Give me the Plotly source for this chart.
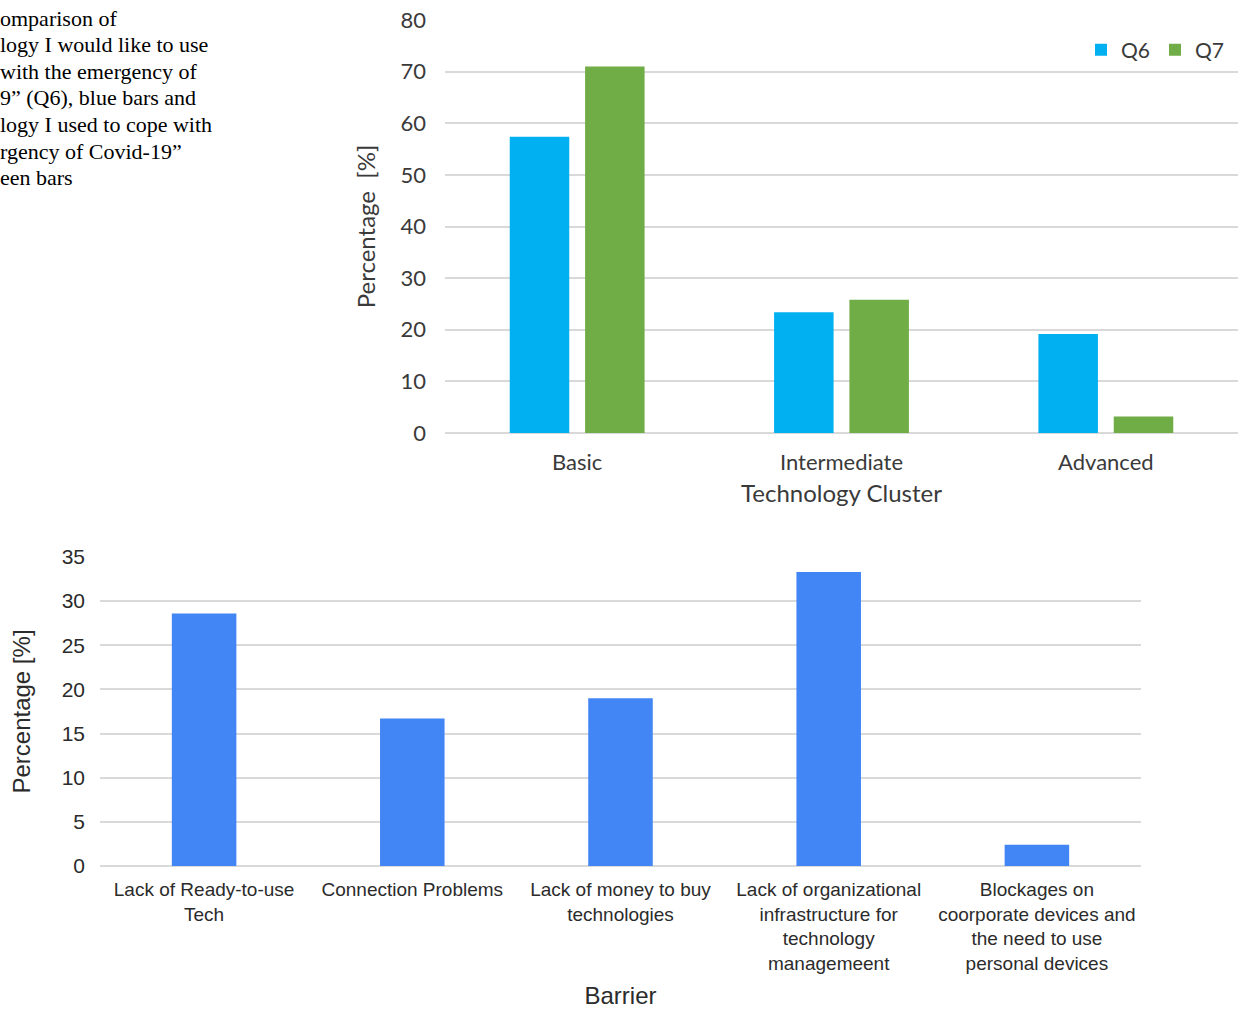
import plotly.graph_objects as go

# ---- Top chart data ----
clusters = ["Basic", "Intermediate", "Advanced"]
q6_values = [57.4, 23.4, 19.2]
q7_values = [71.0, 25.8, 3.2]

# ---- Bottom chart data ----
barriers = [
    "Lack of Ready-to-use<br>Tech",
    "Connection Problems",
    "Lack of money to buy<br>technologies",
    "Lack of organizational<br>infrastructure for<br>technology<br>managemeent",
    "Blockages on<br>coorporate devices and<br>the need to use<br>personal devices",
]
barrier_values = [28.6, 16.7, 19.0, 33.3, 2.4]

caption_lines = [
    "omparison of",
    "logy I would like to use",
    "with the emergency of",
    "9\u201d (Q6), blue bars and",
    "logy I used to cope with",
    "rgency of Covid-19\u201d",
    "een bars",
]

W, H = 1238, 1009
TOP_FONT = "Lato, 'Open Sans', sans-serif"
TOP_COLOR = "#3a3a3a"
BOT_FONT = "'Liberation Sans', Arial, sans-serif"
BOT_COLOR = "#2b2b2b"

fig = go.Figure()
fig.add_trace(go.Bar(x=clusters, y=q6_values, name="Q6", marker_color="#00B0F0",
                     xaxis="x", yaxis="y"))
fig.add_trace(go.Bar(x=clusters, y=q7_values, name="Q7", marker_color="#70AD47",
                     xaxis="x", yaxis="y"))
fig.add_trace(go.Bar(x=barriers, y=barrier_values, name="Barrier", marker_color="#4285F4",
                     xaxis="x2", yaxis="y2", showlegend=False, width=0.31))


def px(x):
    return x / W


def py(y):
    return 1 - y / H


fig.update_layout(
    template="none",
    width=W, height=H,
    margin=dict(l=0, r=0, t=0, b=0, autoexpand=False),
    paper_bgcolor="white", plot_bgcolor="white",
    barmode="group", bargap=0.43, bargroupgap=0.21,
    showlegend=True,
    legend=dict(orientation="h", x=px(1081), y=py(50), xanchor="left", yanchor="middle",
                font=dict(family=TOP_FONT, size=21, color=TOP_COLOR),
                bgcolor="rgba(0,0,0,0)", itemwidth=30),
    xaxis=dict(domain=[px(445), 1.0], anchor="y", showgrid=False, showline=False,
               zeroline=False, automargin=False,
               ticks="outside", ticklen=10, tickcolor="rgba(0,0,0,0)",
               tickfont=dict(family=TOP_FONT, size=22, color=TOP_COLOR),
               title=dict(text="Technology Cluster", standoff=10,
                          font=dict(family=TOP_FONT, size=24, color=TOP_COLOR))),
    yaxis=dict(domain=[py(433), py(20)], anchor="x", range=[0, 80], dtick=10,
               automargin=False,
               showgrid=True, gridcolor="#d9d9d9", gridwidth=2,
               zeroline=True, zerolinecolor="#d9d9d9", zerolinewidth=2,
               ticks="", ticklabelstandoff=18,
               tickfont=dict(family=TOP_FONT, size=22, color=TOP_COLOR),
               title=dict(text="Percentage  [%]", standoff=18,
                          font=dict(family=TOP_FONT, size=24, color=TOP_COLOR))),
    xaxis2=dict(domain=[px(100), px(1141)], anchor="y2", showgrid=False, showline=False,
                zeroline=False, automargin=False,
                ticks="outside", ticklen=6, tickcolor="rgba(0,0,0,0)",
                tickfont=dict(family=BOT_FONT, size=19, color=BOT_COLOR),
                title=dict(text="Barrier", standoff=14,
                           font=dict(family=BOT_FONT, size=24, color=BOT_COLOR))),
    yaxis2=dict(domain=[py(866), py(557)], anchor="x2", range=[0, 35], dtick=5,
                automargin=False,
                showgrid=True, gridcolor="#d9d9d9", gridwidth=2,
                zeroline=True, zerolinecolor="#d9d9d9", zerolinewidth=2,
                ticks="", ticklabelstandoff=14,
                tickfont=dict(family=BOT_FONT, size=21, color=BOT_COLOR),
                title=dict(text="Percentage [%]", standoff=24,
                           font=dict(family=BOT_FONT, size=24, color=BOT_COLOR))),
)

for i, line in enumerate(caption_lines):
    fig.add_annotation(text=line, xref="paper", yref="paper", x=-0.002, y=py(18 + i * 26.6),
                       xanchor="left", yanchor="middle", showarrow=False,
                       font=dict(family="'Liberation Serif', 'Times New Roman', serif",
                                 size=22, color="#000000"))

fig.write_html("out.html")
